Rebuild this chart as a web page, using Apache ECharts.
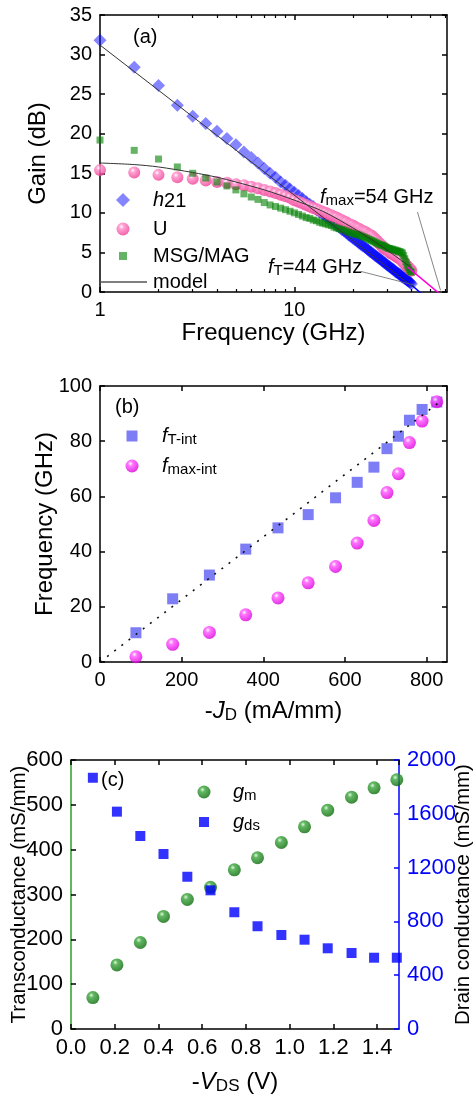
<!DOCTYPE html>
<html>
<head>
<meta charset="utf-8">
<script src="https://cdn.jsdelivr.net/npm/echarts@6.0.0/dist/echarts.min.js"></script>
<style>
  html, body { margin: 0; padding: 0; background: #fff; }
  #main { width: 476px; height: 1097px; }
</style>
</head>
<body>
<div id="main"></div>
<script>
// (a) gain vs frequency, measured every 0.5 GHz
const freq = [1, 1.5, 2, 2.5, 3, 3.5, 4, 4.5, 5, 5.5, 6, 6.5, 7, 7.5, 8, 8.5, 9, 9.5, 10, 10.5,
  11, 11.5, 12, 12.5, 13, 13.5, 14, 14.5, 15, 15.5, 16, 16.5, 17, 17.5, 18, 18.5, 19, 19.5, 20, 20.5,
  21, 21.5, 22, 22.5, 23, 23.5, 24, 24.5, 25, 25.5, 26, 26.5, 27, 27.5, 28, 28.5, 29, 29.5, 30, 30.5,
  31, 31.5, 32, 32.5, 33, 33.5, 34, 34.5, 35, 35.5, 36, 36.5, 37, 37.5, 38, 38.5, 39, 39.5, 40];
const h21 = [31.8, 28.4, 26.1, 23.6, 22.2, 21.3, 20.3, 19.4, 18.6, 17.7,
  17.0, 16.3, 15.6, 15.0, 14.5, 13.9, 13.5, 13.0, 12.6, 12.2,
  11.8, 11.4, 11.1, 10.8, 10.4, 10.1, 9.8, 9.5, 9.2, 9.0,
  8.7, 8.4, 8.2, 7.9, 7.7, 7.5, 7.2, 7.0, 6.8, 6.6,
  6.4, 6.2, 6.0, 5.8, 5.7, 5.5, 5.3, 5.1, 5.0, 4.8,
  4.6, 4.5, 4.3, 4.2, 4.0, 3.9, 3.7, 3.6, 3.4, 3.3,
  3.2, 3.0, 2.9, 2.8, 2.6, 2.5, 2.4, 2.3, 2.2, 2.0,
  1.9, 1.8, 1.7, 1.6, 1.5, 1.4, 1.3, 1.2, 1.0];
const gainU = [15.4, 15.1, 14.8, 14.5, 14.3, 14.1, 13.9, 13.8, 13.6, 13.5,
  13.3, 13.1, 12.9, 12.7, 12.5, 12.3, 12.1, 11.9, 11.6, 11.4,
  11.2, 11.0, 10.8, 10.6, 10.5, 10.3, 10.1, 10.0, 9.8, 9.7,
  9.5, 9.4, 9.2, 9.1, 8.9, 8.8, 8.6, 8.5, 8.4, 8.2,
  8.1, 8.0, 7.8, 7.7, 7.6, 7.5, 7.3, 7.2, 7.1, 6.9,
  6.7, 6.5, 6.3, 6.1, 5.9, 5.7, 5.5, 5.4, 5.3, 5.2,
  5.0, 4.9, 4.8, 4.7, 4.6, 4.5, 4.4, 4.3, 4.2, 4.1,
  3.9, 3.8, 3.6, 3.4, 3.3, 3.1, 3.0, 2.8, 2.7];
const msg = [19.2, 17.9, 16.8, 15.8, 15.0, 14.4, 13.9, 13.4, 12.9, 12.4,
  12.0, 11.7, 11.3, 11.0, 10.8, 10.6, 10.4, 10.2, 10.0, 9.8,
  9.6, 9.4, 9.3, 9.1, 9.0, 8.8, 8.7, 8.6, 8.5, 8.4,
  8.2, 8.1, 8.0, 7.9, 7.8, 7.7, 7.6, 7.5, 7.4, 7.3,
  7.3, 7.2, 7.1, 7.0, 6.9, 6.8, 6.7, 6.6, 6.5, 6.4,
  6.3, 6.2, 6.1, 6.0, 5.9, 5.9, 5.8, 5.7, 5.6, 5.5,
  5.5, 5.4, 5.4, 5.3, 5.3, 5.2, 5.2, 5.1, 5.1, 5.0,
  4.9, 4.6, 4.2, 3.8, 3.4, 3.1, 2.8, 2.6, 2.5];
const modelH21 = [[1, 31.2], [41, 0.6]];
const modelU = [[1, 16.3], [1.5, 16.1], [2, 15.8], [3, 15.1], [4, 14.5], [5, 13.9], [7, 12.9],
  [10, 11.6], [14, 10.2], [20, 8.1], [25, 6.6], [30, 5.3], [35, 4.1], [40, 3.1]];
const extrapFt = [[30, 3.6], [46, -0.4]];
const extrapFmax = [[38, 3.2], [57, -0.4]];
const leaderFmax = [[43, 10.1], [56.5, 0.2]];
const leaderFt = [[22, 2.6], [41, 0.9]];
const logMinor = [2, 3, 4, 5, 6, 7, 8, 9, 20, 30, 40, 50, 60];

// (b) cut-off frequencies vs drain current
const jd = [88, 178, 268, 357, 436, 510, 577, 630, 671, 703, 731, 758, 789, 825];
const ftInt = [10.6, 22.9, 31.5, 40.9, 48.6, 53.4, 59.5, 65.1, 70.6, 77.3, 81.8, 87.6, 91.5, 94.2];
const fmaxInt = [1.9, 6.4, 10.7, 17.1, 23.2, 28.7, 34.6, 43.1, 51.3, 61.4, 68.2, 79.5, 87.3, 94.3];
const ftFit = [[0, 0], [830, 94]];

// (c) conductances vs drain voltage
const vds = [0.1, 0.21, 0.317, 0.423, 0.532, 0.638, 0.747, 0.853, 0.962, 1.068, 1.174, 1.283, 1.386, 1.49];
const gm = [70, 143, 193, 251, 289, 316, 355, 382, 416, 451, 488, 517, 538, 556];
const gds = [1868, 1616, 1435, 1301, 1132, 1031, 868, 764, 699, 664, 600, 565, 530, 530];

const FONT = '"Liberation Sans", Arial, sans-serif';
const pair = (xs, ys) => xs.map((x, i) => [x, ys[i]]);
const sphere = (hi, mid, edge) => ({
  type: 'radial', x: 0.38, y: 0.32, r: 0.68,
  colorStops: [{ offset: 0, color: hi }, { offset: 0.28, color: mid }, { offset: 1, color: edge }]
});
const pink = sphere('#ffffff', '#ff8cc8', '#ee3f95');
const magenta = sphere('#ffffff', '#ff55ff', '#dd00dd');
const green = sphere('#d8f5d8', '#3aa63a', '#0b6b0b');

function frame(extra) {
  const base = {
    nameMoveOverlap: false,
    axisLine: { show: true, onZero: false, lineStyle: { color: '#000', width: 1.5 } },
    axisTick: { show: true, inside: true, length: 5, lineStyle: { width: 1.5 } },
    axisLabel: { show: false },
    splitLine: { show: false }
  };
  const out = Object.assign(base, extra);
  out.axisLine = Object.assign({ onZero: false }, out.axisLine);
  return out;
}
const tickLabel = { show: true, fontSize: 20, color: '#000', fontFamily: FONT, margin: 8 };
const titleStyle = { fontSize: 24, color: '#000', fontFamily: FONT };
const subRich = {
  i: { fontStyle: 'italic', fontSize: 20, lineHeight: 22, fontFamily: FONT },
  s: { fontSize: 15, lineHeight: 6, verticalAlign: 'bottom', fontFamily: FONT },
  b: { fontSize: 20, lineHeight: 8, verticalAlign: 'bottom', fontFamily: FONT },
  n: { fontSize: 20, lineHeight: 22, fontFamily: FONT }
};
const titleRich = {
  n: { fontSize: 24, lineHeight: 26, fontFamily: FONT },
  i: { fontSize: 24, lineHeight: 26, fontStyle: 'italic', fontFamily: FONT },
  s: { fontSize: 17, lineHeight: 8, verticalAlign: 'bottom', fontFamily: FONT }
};
const minorLog = pos => frame({ type: 'log', logBase: 10, gridIndex: 0, min: 1, max: 61, position: pos,
  axisLine: { show: false },
  axisTick: { show: true, inside: true, length: 3, lineStyle: { width: 1.2, color: '#000' }, customValues: logMinor } });

// one legend per entry so each icon can keep its own size and place
function oneLegend(name, top, cx, size, textX, fmt, icon, w) {
  const iw = w || size;
  const left = cx - iw / 2;
  return {
    data: [icon ? { name: name, icon: icon } : name], top: top, left: left, padding: 0,
    itemWidth: iw, itemHeight: size, selectedMode: false, orient: 'vertical',
    textStyle: { fontSize: 20, color: '#000', fontFamily: FONT, lineHeight: 22, rich: subRich,
      padding: [0, 0, 0, Math.max(0, textX - (left + iw) - 5)] },
    formatter: fmt || (n => n)
  };
}

const chart = echarts.init(document.getElementById('main'), null, { renderer: 'canvas' });
chart.setOption({
  animation: false,
  textStyle: { fontFamily: FONT },
  grid: [
    { left: 100, top: 15, width: 347, height: 277, outerBoundsMode: 'none' },
    { left: 100, top: 386, width: 347, height: 276, outerBoundsMode: 'none' },
    { left: 71, top: 760, width: 328, height: 269, outerBoundsMode: 'none' }
  ],
  xAxis: [
    frame({ type: 'log', logBase: 10, gridIndex: 0, min: 1, max: 61, position: 'bottom',
      axisLabel: Object.assign({}, tickLabel, { showMaxLabel: false }),
      name: 'Frequency (GHz)', nameLocation: 'middle', nameGap: 29, nameTextStyle: titleStyle }),
    minorLog('bottom'),
    frame({ type: 'log', logBase: 10, gridIndex: 0, min: 1, max: 61, position: 'top',
      axisTick: { show: true, inside: true, length: 5, lineStyle: { width: 1.5 }, customValues: [10] } }),
    frame({ type: 'value', gridIndex: 1, min: 0, max: 850, interval: 200, position: 'bottom',
      axisLabel: Object.assign({}, tickLabel, { showMaxLabel: false }),
      name: '{n|-}{i|J}{s|D}{n| (mA/mm)}', nameLocation: 'middle', nameGap: 36,
      nameTextStyle: Object.assign({}, titleStyle, { rich: titleRich }) }),
    frame({ type: 'value', gridIndex: 1, min: 0, max: 850, interval: 200, position: 'top' }),
    frame({ type: 'value', gridIndex: 2, min: 0, max: 1.5, interval: 0.2, position: 'bottom',
      axisLabel: Object.assign({}, tickLabel, { fontSize: 22, showMaxLabel: false, formatter: v => v.toFixed(1) }),
      name: '{n|-}{i|V}{s|DS}{n| (V)}', nameLocation: 'middle', nameGap: 40,
      nameTextStyle: Object.assign({}, titleStyle, { rich: titleRich }) }),
    frame({ type: 'value', gridIndex: 2, min: 0, max: 1.5, interval: 0.2, position: 'top' }),
    minorLog('top')
  ],
  yAxis: [
    frame({ type: 'value', gridIndex: 0, min: 0, max: 35, interval: 5, position: 'left',
      axisLabel: tickLabel, name: 'Gain (dB)', nameLocation: 'middle', nameGap: 50, nameTextStyle: titleStyle }),
    frame({ type: 'value', gridIndex: 0, min: 0, max: 35, interval: 5, position: 'right' }),
    frame({ type: 'value', gridIndex: 1, min: 0, max: 100, interval: 20, position: 'left',
      axisLabel: tickLabel, name: 'Frequency (GHz)', nameLocation: 'middle', nameGap: 43, nameTextStyle: titleStyle }),
    frame({ type: 'value', gridIndex: 1, min: 0, max: 100, interval: 20, position: 'right' }),
    frame({ type: 'value', gridIndex: 2, min: 0, max: 600, interval: 100, position: 'left',
      axisLine: { show: true, onZero: false, lineStyle: { color: '#2e9e2e', width: 1.5 } },
      axisTick: { show: true, inside: true, length: 5, lineStyle: { color: '#000', width: 1.5 } },
      axisLabel: Object.assign({}, tickLabel, { fontSize: 22 }),
      name: 'Transconductance (mS/mm)', nameLocation: 'middle', nameGap: 41,
      nameTextStyle: Object.assign({}, titleStyle, { fontSize: 20.5 }) }),
    frame({ type: 'value', gridIndex: 2, min: 0, max: 2000, interval: 400, position: 'right',
      axisLine: { show: true, onZero: false, lineStyle: { color: '#0000ff', width: 1.5 } },
      axisTick: { show: true, inside: true, length: 5, lineStyle: { color: '#0000ff', width: 1.5 } },
      axisLabel: Object.assign({}, tickLabel, { fontSize: 22, color: '#0000ff', formatter: v => String(v) }),
      name: 'Drain conductance (mS/mm)', nameLocation: 'middle', nameGap: 54,
      nameTextStyle: Object.assign({}, titleStyle, { fontSize: 20.5 }) })
  ],
  legend: [
    oneLegend('h21', 189, 123, 14, 153, () => '{i|h}{b|21}'),
    oneLegend('U', 218, 123, 13, 153),
    oneLegend('MSG/MAG', 245, 123, 8, 153),
    oneLegend('model', 271, 123.5, 14, 153, null, 'path://M0,0h47v1.6h-47z', 47),
    oneLegend('fT-int', 425, 132, 11, 162, () => '{i|f}{s|T-int}'),
    oneLegend('fmax-int', 455, 132, 13, 162, () => '{i|f}{s|max-int}'),
    oneLegend('gm', 781, 204, 13, 233, () => '{i|g}{s|m}'),
    oneLegend('gds', 811, 204, 10, 233, () => '{i|g}{s|ds}')
  ],
  graphic: [
    { type: 'text', style: { x: 133, y: 37, text: '(a)', fontSize: 20, fontFamily: FONT, fill: '#000', verticalAlign: 'middle' } },
    { type: 'text', style: { x: 115, y: 407, text: '(b)', fontSize: 20, fontFamily: FONT, fill: '#000', verticalAlign: 'middle' } },
    { type: 'text', style: { x: 101, y: 780, text: '(c)', fontSize: 20, fontFamily: FONT, fill: '#000', verticalAlign: 'middle' } },
    { type: 'text', style: { x: 320, y: 197, text: '{i|f}{s|max}{n|=54 GHz}', rich: subRich, fill: '#000', verticalAlign: 'middle' } },
    { type: 'text', style: { x: 268, y: 267, text: '{i|f}{s|T}{n|=44 GHz}', rich: subRich, fill: '#000', verticalAlign: 'middle' } }
  ],
  series: [
    { name: 'h21', type: 'scatter', xAxisIndex: 0, yAxisIndex: 0, symbol: 'diamond', symbolSize: 13,
      itemStyle: { color: 'rgba(0,0,255,0.6)' }, data: pair(freq, h21) },
    { name: 'U', type: 'scatter', xAxisIndex: 0, yAxisIndex: 0, symbol: 'circle', symbolSize: 12,
      itemStyle: { color: pink }, data: pair(freq, gainU) },
    { name: 'MSG/MAG', type: 'scatter', xAxisIndex: 0, yAxisIndex: 0, symbol: 'rect', symbolSize: 7,
      itemStyle: { color: 'rgba(0,128,0,0.75)' }, data: pair(freq, msg) },
    { name: 'fT extrapolation', type: 'line', xAxisIndex: 0, yAxisIndex: 0, symbol: 'none', clip: true,
      lineStyle: { color: '#0000ff', width: 1.5 }, data: extrapFt },
    { name: 'fmax extrapolation', type: 'line', xAxisIndex: 0, yAxisIndex: 0, symbol: 'none', clip: true,
      lineStyle: { color: '#ff00dd', width: 1.5 }, data: extrapFmax },
    { name: 'model', type: 'line', xAxisIndex: 0, yAxisIndex: 0, symbol: 'none',
      lineStyle: { color: '#333', width: 1 }, itemStyle: { color: '#555' }, data: modelH21 },
    { name: 'model', type: 'line', xAxisIndex: 0, yAxisIndex: 0, symbol: 'none', smooth: 0.3,
      lineStyle: { color: '#333', width: 1 }, itemStyle: { color: '#555' }, data: modelU },
    { name: 'leader fmax', type: 'line', xAxisIndex: 0, yAxisIndex: 0, symbol: 'none',
      lineStyle: { color: '#666', width: 0.8 }, data: leaderFmax },
    { name: 'leader fT', type: 'line', xAxisIndex: 0, yAxisIndex: 0, symbol: 'none',
      lineStyle: { color: '#666', width: 0.8 }, data: leaderFt },

    { name: 'fT-int', type: 'scatter', xAxisIndex: 3, yAxisIndex: 2, symbol: 'rect', symbolSize: 11,
      itemStyle: { color: '#5c5cf2' }, data: pair(jd, ftInt) },
    { name: 'fmax-int', type: 'scatter', xAxisIndex: 3, yAxisIndex: 2, symbol: 'circle', symbolSize: 13,
      itemStyle: { color: magenta }, data: pair(jd, fmaxInt) },
    { name: 'fT fit', type: 'line', xAxisIndex: 3, yAxisIndex: 2, symbol: 'none',
      lineStyle: { color: '#111', width: 1.6, type: [2, 7] }, data: ftFit },

    { name: 'gm', type: 'scatter', xAxisIndex: 5, yAxisIndex: 4, symbol: 'circle', symbolSize: 13,
      itemStyle: { color: green }, data: pair(vds, gm) },
    { name: 'gds', type: 'scatter', xAxisIndex: 5, yAxisIndex: 5, symbol: 'rect', symbolSize: 10,
      itemStyle: { color: '#0000ff' }, data: pair(vds, gds) }
  ]
});
</script>
</body>
</html>
